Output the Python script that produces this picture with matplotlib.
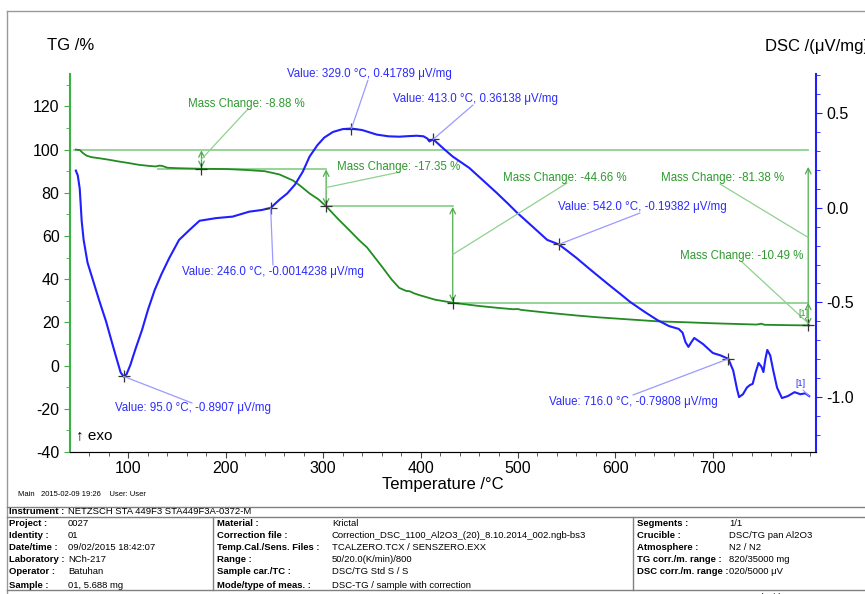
import matplotlib
matplotlib.use("Agg")
import matplotlib.pyplot as plt
from matplotlib.patches import ConnectionPatch
from matplotlib.lines import Line2D

plt.rcParams['font.family'] = ['Liberation Sans', 'DejaVu Sans']
plt.rcParams['axes.unicode_minus'] = False

W, H = 865, 594

# TG curve (temperature degC, mass %)
tg_T = [46, 50, 53, 57, 62, 70, 80, 90, 100, 110, 120, 128, 132, 135, 140, 150, 175, 200, 220,
        240, 255, 269, 276, 286, 295, 303, 315, 327, 337, 345, 360, 370, 378, 385, 389, 393, 399,
        415, 433, 460, 480, 495, 500, 503, 530, 560, 581, 610, 643, 670, 700, 730, 745, 750, 753,
        780, 799]
tg_val = [100, 99.8, 98.5, 97.2, 96.5, 96.0, 95.3, 94.5, 93.8, 93.0, 92.5, 92.2, 92.6, 92.4, 91.6,
          91.4, 91.12, 91.0, 90.6, 90.0, 88.5, 85.7, 83.4, 79.7, 77.0, 73.77, 68.0, 62.6, 58.0,
          54.7, 46.0, 40.0, 36.0, 34.6, 34.4, 33.5, 32.6, 30.5, 29.11, 27.6, 26.7, 26.1, 26.2,
          25.8, 24.5, 23.2, 22.4, 21.5, 20.5, 20.1, 19.6, 19.2, 19.0, 19.4, 18.9, 18.7, 18.62]

# DSC curve (temperature degC, uV/mg)
dsc_T = [46, 48, 50, 52, 54, 58, 64, 70, 77, 83, 88, 92, 95, 98, 102, 107, 114, 120, 127, 134,
         142, 152, 163, 173, 190, 207, 224, 237, 246, 255, 263, 271, 279, 286, 294, 301, 310,
         320, 329, 340, 355, 367, 378, 388, 396, 403, 407, 409, 413, 424, 433, 450, 465, 478,
         490, 499, 515, 530, 542, 550, 560, 575, 594, 605, 615, 630, 643, 655, 665, 669, 672,
         675, 678, 681, 690, 700, 708, 716, 721, 725, 727, 731, 735, 738, 741, 744, 747, 750,
         752, 754, 756, 759, 762, 766, 771, 777, 784, 790, 795, 799]
dsc_val = [0.196, 0.17, 0.10, -0.07, -0.17, -0.29, -0.39, -0.49, -0.60, -0.71, -0.80, -0.87,
           -0.891, -0.88, -0.83, -0.75, -0.645, -0.54, -0.434, -0.35, -0.265, -0.17, -0.116,
           -0.069, -0.055, -0.047, -0.021, -0.012, -0.0014, 0.042, 0.075, 0.122, 0.19, 0.27,
           0.33, 0.37, 0.40, 0.415, 0.418, 0.41, 0.386, 0.377, 0.375, 0.378, 0.38, 0.377, 0.365,
           0.35, 0.361, 0.31, 0.27, 0.21, 0.14, 0.079, 0.02, -0.026, -0.10, -0.17, -0.194,
           -0.225, -0.265, -0.33, -0.41, -0.455, -0.497, -0.55, -0.593, -0.625, -0.64, -0.66,
           -0.71, -0.735, -0.71, -0.688, -0.72, -0.767, -0.78, -0.798, -0.86, -0.96, -1.0,
           -0.985, -0.95, -0.937, -0.93, -0.87, -0.82, -0.84, -0.868, -0.80, -0.751, -0.78,
           -0.857, -0.95, -1.005, -0.995, -0.974, -0.985, -0.98, -0.995]

# DSC peak marks
peak_T = [95.0, 246.0, 329.0, 413.0, 542.0, 716.0]
peak_val = [-0.8907, -0.0014238, 0.41789, 0.36138, -0.19382, -0.79808]
peak_txt = ["-0.8907", "-0.0014238", "0.41789", "0.36138", "-0.19382", "-0.79808"]
# text left/centre and leader start, in picture pixels
peak_txt_pos = [(115, 408), (182, 272), (287, 74), (393, 99), (558, 207), (549, 402)]
peak_lead = [(192, 403), (273, 265), (368, 80), (473, 105), (640, 213), (633, 395)]

# mass change steps
step_T = [175, 303, 433, 798]
step_lvl = [100, 91.12, 73.77, 29.11, 18.62]
mc_labels = ["-8.88", "-17.35", "-44.66", "-81.38", "-10.49"]
mc_pos = [(188, 104), (337, 167), (503, 178), (661, 178), (680, 256)]
mc_lead = [(248, 109), (400, 172), (567, 183), (720, 184), (742, 262)]

GREEN = '#228b22'
LGREEN = '#8fd18f'
TGREEN = '#2e9a2e'
BLUE = '#1f1fff'
LBLUE = '#9a9aff'
TBLUE = '#2b2bff'


def fx(px):
    return px / W


def fy(py):
    return 1 - py / H


fig = plt.figure(figsize=(W / 100, H / 100), dpi=100, facecolor='white')
ax = fig.add_axes([fx(70), fy(452), fx(816) - fx(70), fy(74) - fy(452)])
ax2 = ax.twinx()

ax.set_xlim(40, 806)
ax.set_ylim(-40, 135)
ax2.set_ylim(-1.29, 0.706)

# reference lines for mass steps
ax.plot([44, 798], [100, 100], color=LGREEN, lw=1.3)
ax.plot([130, 303], [91.12, 91.12], color=LGREEN, lw=1.3)
ax.plot([303, 433], [73.77, 73.77], color=LGREEN, lw=1.3)
ax.plot([433, 798], [29.11, 29.11], color=LGREEN, lw=1.3)

arrow_kw = dict(arrowstyle='<->', color='#4cae4c', lw=0.9, shrinkA=0, shrinkB=0,
                mutation_scale=10)
for i in range(3):
    ax.annotate('', xy=(step_T[i], step_lvl[i] - 0.3), xytext=(step_T[i], step_lvl[i + 1] + 0.3),
                arrowprops=arrow_kw)
ax.annotate('', xy=(step_T[3], 92), xytext=(step_T[3], step_lvl[3]),
            arrowprops=dict(arrow_kw, arrowstyle='->'))
ax.annotate('', xy=(step_T[3], step_lvl[3]), xytext=(step_T[3], step_lvl[4]),
            arrowprops=arrow_kw)

ax.plot(tg_T, tg_val, color=GREEN, lw=1.3, zorder=3)
ax2.plot(dsc_T, dsc_val, color=BLUE, lw=1.5, zorder=3)

# cross marks
for i in range(4):
    ax.plot(step_T[i], step_lvl[i + 1], marker='+', color='#333333', ms=9, mew=0.9, zorder=4)
ax2.plot(peak_T, peak_val, '+', color='#333333', ms=9, mew=0.9, zorder=4)

# DSC labels
for T, v, t, (tx, ty), (lx, ly) in zip(peak_T, peak_val, peak_txt, peak_txt_pos, peak_lead):
    fig.text(fx(tx), fy(ty), f"Value: {T:.1f} °C, {t} μV/mg", color=TBLUE, fontsize=8.3,
             va='center', ha='left')
    fig.add_artist(ConnectionPatch(xyA=(fx(lx), fy(ly)), coordsA=fig.transFigure,
                                   xyB=(T, v), coordsB=ax2.transData, color=LBLUE, lw=0.9))

# mass change labels
mc_target = [(step_T[0], (step_lvl[0] + step_lvl[1]) / 2),
             (step_T[1], (step_lvl[1] + step_lvl[2]) / 2),
             (step_T[2], (step_lvl[2] + step_lvl[3]) / 2),
             (step_T[3], (step_lvl[0] + step_lvl[4]) / 2),
             (step_T[3], step_lvl[4] + 1)]
for lab, (tx, ty), (lx, ly), tgt in zip(mc_labels, mc_pos, mc_lead, mc_target):
    fig.text(fx(tx), fy(ty), f"Mass Change: {lab} %", color=TGREEN, fontsize=8.3,
             va='center', ha='left')
    fig.add_artist(ConnectionPatch(xyA=(fx(lx), fy(ly)), coordsA=fig.transFigure,
                                   xyB=tgt, coordsB=ax.transData, color=LGREEN, lw=0.9))

fig.text(fx(803), fy(313), "[1]", color=TGREEN, fontsize=6.5, ha='center', va='center')
fig.text(fx(800), fy(383), "[1]", color=TBLUE, fontsize=6.5, ha='center', va='center')
fig.add_artist(ConnectionPatch(xyA=(fx(803), fy(390)), coordsA=fig.transFigure,
                               xyB=(dsc_T[-1], dsc_val[-1]), coordsB=ax2.transData,
                               color=LBLUE, lw=0.8))
ax.text(46.5, -32, "↑ exo", fontsize=11, va='center', ha='left')

# axes styling
ax.spines['top'].set_visible(False)
ax2.spines['top'].set_visible(False)
ax.spines['left'].set_color('#3cb043')
ax.spines['left'].set_linewidth(1.5)
ax2.spines['left'].set_visible(False)
ax2.spines['right'].set_color(BLUE)
ax2.spines['right'].set_linewidth(1.5)
ax.spines['right'].set_visible(False)
ax.spines['bottom'].set_color('#444444')

ax.set_xticks([100, 200, 300, 400, 500, 600, 700])
ax.set_xticks(range(60, 806, 20), minor=True)
ax.set_yticks(range(-40, 121, 20))
ax.set_yticks(range(-40, 136, 10), minor=True)
ax2.set_yticks([-1.0, -0.5, 0.0, 0.5])
ax2.set_yticks([x / 10 for x in range(-12, 8)], minor=True)
ax2.set_yticklabels(["-1.0", "-0.5", "0.0", "0.5"])

ax.tick_params(axis='both', which='major', labelsize=11.5, length=4, direction='out')
ax.tick_params(axis='x', which='major', pad=2.5)
ax.tick_params(axis='both', which='minor', length=3, direction='out')
ax.tick_params(axis='y', which='both', color='#3cb043')
ax.tick_params(axis='x', which='both', color='#444444')
ax2.tick_params(axis='y', which='major', labelsize=11.5, length=4, color=BLUE)
ax2.tick_params(axis='y', which='minor', length=3, color=BLUE)

fig.text(fx(47), fy(46), "TG /%", fontsize=12, va='center', ha='left')
fig.text(fx(765), fy(46), "DSC /(μV/mg)", fontsize=12, va='center', ha='left')
fig.text(fx(443), fy(484), "Temperature /°C", fontsize=12, va='center', ha='center')

# outer frame
frame_kw = dict(color='#9a9a9a', lw=1.0)
fig.add_artist(Line2D([fx(7), 1], [fy(11), fy(11)], **frame_kw))
fig.add_artist(Line2D([fx(7), fx(7)], [fy(11), 0], **frame_kw))

fig.text(fx(18), fy(494), "Main   2015-02-09 19:26    User: User", fontsize=5.5,
         va='center', ha='left')

# info table
line_kw = dict(color='#808080', lw=1.0)
for py in (507, 517, 590):
    fig.add_artist(Line2D([fx(7), 1], [fy(py), fy(py)], **line_kw))
fig.add_artist(Line2D([fx(213), fx(213)], [fy(517), fy(590)], **line_kw))
fig.add_artist(Line2D([fx(633), fx(633)], [fy(517), fy(590)], **line_kw))

fs = 6.8
fig.text(fx(9), fy(512), "Instrument :", fontsize=fs, fontweight='bold', va='center')
fig.text(fx(68), fy(512), "NETZSCH STA 449F3 STA449F3A-0372-M", fontsize=fs, va='center')

rows_y = [523, 535, 547, 560, 572, 585]
left_keys = ["Project :", "Identity :", "Date/time :", "Laboratory :", "Operator :", "Sample :"]
left_vals = ["0027", "01", "09/02/2015 18:42:07", "NCh-217", "Batuhan", "01, 5.688 mg"]
mid_keys = ["Material :", "Correction file :", "Temp.Cal./Sens. Files :", "Range :",
            "Sample car./TC :", "Mode/type of meas. :"]
mid_vals = ["Krictal", "Correction_DSC_1100_Al2O3_(20)_8.10.2014_002.ngb-bs3",
            "TCALZERO.TCX / SENSZERO.EXX", "50/20.0(K/min)/800", "DSC/TG Std S / S",
            "DSC-TG / sample with correction"]
right_keys = ["Segments :", "Crucible :", "Atmosphere :", "TG corr./m. range :",
              "DSC corr./m. range :"]
right_vals = ["1/1", "DSC/TG pan Al2O3", "N2 / N2", "820/35000 mg", "020/5000 μV"]

for y, k, v in zip(rows_y, left_keys, left_vals):
    fig.text(fx(9), fy(y), k, fontsize=fs, fontweight='bold', va='center')
    fig.text(fx(68), fy(y), v, fontsize=fs, va='center')
for y, k, v in zip(rows_y, mid_keys, mid_vals):
    fig.text(fx(217), fy(y), k, fontsize=fs, fontweight='bold', va='center')
    fig.text(fx(332), fy(y), v, fontsize=fs, va='center')
for y, k, v in zip(rows_y, right_keys, right_vals):
    fig.text(fx(637), fy(y), k, fontsize=fs, fontweight='bold', va='center')
    fig.text(fx(729), fy(y), v, fontsize=fs, va='center')

fig.text(fx(730), fy(597), "Created with NETZSCH Proteus software", fontsize=fs, va='center')

fig.savefig("out.png", dpi=100, facecolor='white')
